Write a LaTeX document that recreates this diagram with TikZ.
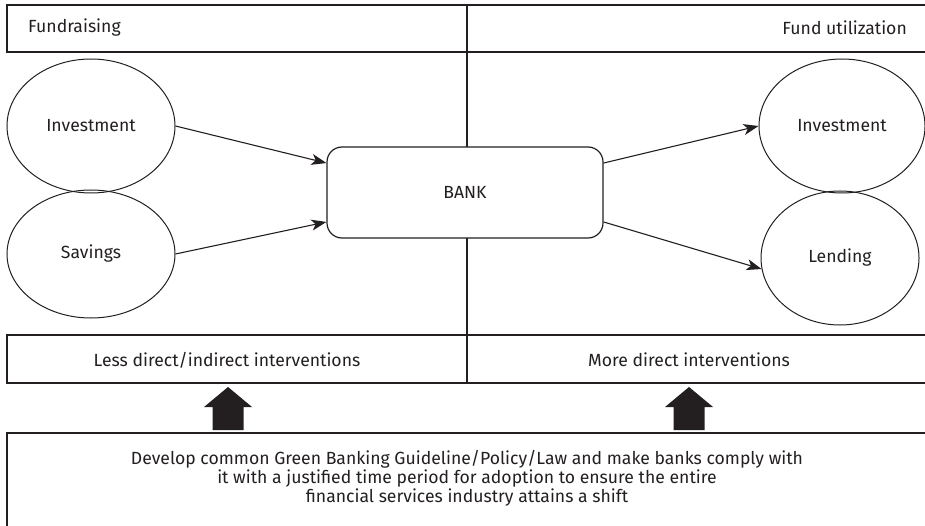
\documentclass[tikz,border=0pt]{standalone}
\usepackage{fontspec}
\setmainfont{Fira Sans}
\usetikzlibrary{arrows.meta,shapes.geometric}
\definecolor{ink}{HTML}{231F20}
\tikzset{
  frame/.style={draw=ink,line width=1.4pt},
  bubble/.style={ellipse,draw=ink,line width=1pt,inner sep=0pt},
  flow/.style={draw=ink,line width=1.1pt,-{Stealth[length=15pt,width=11pt,inset=4pt]}},
  lbl/.style={text=ink,font=\fontsize{17.6}{19}\selectfont,inner sep=0pt},
  blockarrow/.style={fill=ink,draw=none}
}
\begin{document}
\begin{tikzpicture}[x=1pt,y=-1pt]
\useasboundingbox (0,0) rectangle (925,526);
% header band and column divider
\draw[frame] (935,5) -- (7,5) -- (7,52) -- (935,52);
\draw[frame] (467,5) -- (467,383);
% intervention band
\draw[frame] (935,335) -- (7,335) -- (7,383) -- (935,383);
% policy box
\draw[frame] (935,433) -- (7,433) -- (7,540);

\node[lbl,anchor=west] (fr) at (28,28) {Fundraising};
\node[lbl,anchor=east] (fu) at (907,28) {Fund utilization};

% central bank
\node[draw=ink,line width=1.2pt,fill=white,rounded corners=15pt,minimum width=276pt,minimum height=91pt,lbl] (bank) at (465,192.5) {BANK};

% sources of funds
\node[bubble,minimum width=168pt,minimum height=134pt] (inv1) at (91,126) {};
\node[lbl] at (inv1) {Investment};
\node[bubble,minimum width=168pt,minimum height=128pt] (sav) at (91,254) {};
\node[lbl] at (sav) {Savings};

% uses of funds
\node[bubble,minimum width=166pt,minimum height=134pt] (inv2) at (842,126) {};
\node[lbl] at (inv2) {Investment};
\node[bubble,minimum width=158pt,minimum height=134pt] (lend) at (840,258) {};
\node[lbl] at (lend) {Lending};

\draw[flow] (inv1.east) -- (bank.168);
\draw[flow] (sav.east) -- (bank.192);
\draw[flow] (bank.12) -- (inv2.west);
\draw[flow] (bank.-12) -- (lend.188);

% interventions
\node[lbl] (less) at (227,360) {Less direct/indirect interventions};
\node[lbl] (more) at (689,360) {More direct interventions};

% block arrows pointing up
\coordinate (la) at (228,430);
\coordinate (ra) at (689,430);
\foreach \c in {la,ra}{
  \fill[blockarrow] ([xshift=-15.5pt]\c) -- ++(0,-23) -- ++(-8.5,0) -- ++(24,-20) -- ++(24,20) -- ++(-8.5,0) -- ++(0,23) -- cycle;
}

\node[lbl,align=center] (policy) at (467,478) {Develop common Green Banking Guideline/Policy/Law and make banks comply with\\it with a justified time period for adoption to ensure the entire\\financial services industry attains a shift};
\end{tikzpicture}
\end{document}
